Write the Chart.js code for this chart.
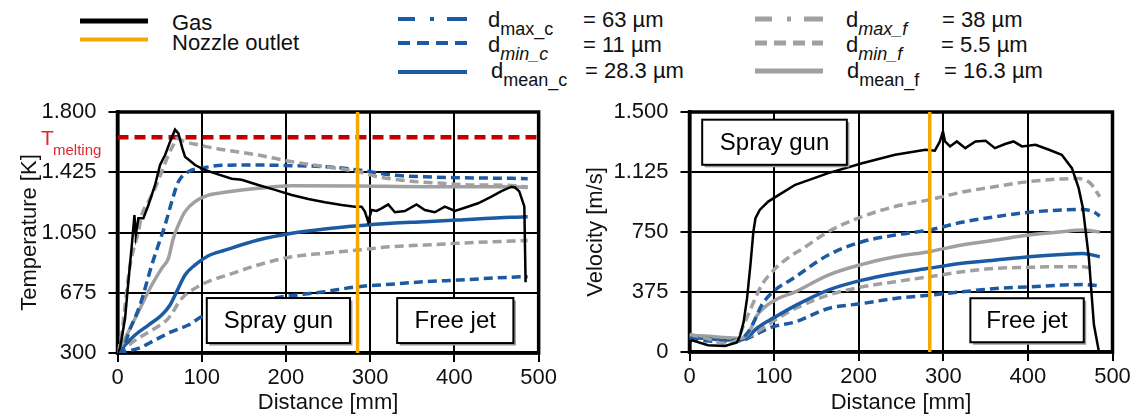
<!DOCTYPE html>
<html>
<head>
<meta charset="utf-8">
<script src="https://cdn.jsdelivr.net/npm/chart.js@4.4.0/dist/chart.umd.min.js"></script>
<style>
  body{margin:0;background:#fff;width:1142px;height:418px;overflow:hidden;position:relative;}
  canvas{position:absolute;top:0;}
  #legend{position:absolute;left:0;top:0;}
  #legend text{font-family:"Liberation Sans",Arial,sans-serif;font-size:22px;fill:#111;}
  #legend tspan.sub{font-size:18px;}
</style>
</head>
<body>
<svg id="legend" width="1142" height="95">
  <line x1="80" y1="21" x2="148" y2="21" stroke="#000" stroke-width="5"/>
  <line x1="80" y1="39.5" x2="148" y2="39.5" stroke="#f5a800" stroke-width="4"/>
  <text x="172" y="30">Gas</text>
  <text x="172" y="50">Nozzle outlet</text>

  <line x1="398" y1="19" x2="467" y2="19" stroke="#1c5aa3" stroke-width="4" stroke-dasharray="17 15 4 13 20"/>
  <line x1="398" y1="43" x2="467" y2="43" stroke="#1c5aa3" stroke-width="4" stroke-dasharray="12 7"/>
  <line x1="398" y1="72" x2="467" y2="72" stroke="#1c5aa3" stroke-width="4"/>
  <text x="488" y="27">d<tspan class="sub" dy="8">max_c</tspan></text>
  <text x="583" y="27">= 63 µm</text>
  <text x="488" y="52">d<tspan class="sub" dy="8" font-style="italic">min_c</tspan></text>
  <text x="583" y="52">= 11 µm</text>
  <text x="491" y="78">d<tspan class="sub" dy="8">mean_c</tspan></text>
  <text x="585" y="78">= 28.3 µm</text>

  <line x1="755" y1="19" x2="823" y2="19" stroke="#a0a0a0" stroke-width="5" stroke-dasharray="17 15 4 13 20"/>
  <line x1="755" y1="43" x2="823" y2="43" stroke="#a0a0a0" stroke-width="5" stroke-dasharray="12 7"/>
  <line x1="755" y1="71" x2="823" y2="71" stroke="#a0a0a0" stroke-width="5"/>
  <text x="846" y="27">d<tspan class="sub" dy="8" font-style="italic">max_f</tspan></text>
  <text x="942" y="27">= 38 µm</text>
  <text x="846" y="52">d<tspan class="sub" dy="8" font-style="italic">min_f</tspan></text>
  <text x="941" y="52">= 5.5 µm</text>
  <text x="847" y="78">d<tspan class="sub" dy="8">mean_f</tspan></text>
  <text x="944" y="78">= 16.3 µm</text>
</svg>
<canvas id="tempChart" width="560" height="418" style="left:0"></canvas>
<canvas id="velChart" width="572" height="418" style="left:570px"></canvas>
<script>
// --- axis ticks ---
const distTicks = [0,100,200,300,400,500];
const tempTicks = [300,675,1050,1425,1800];
const velTicks = [0,375,750,1125,1500];

// reference lines
const meltTemp = 1643;      // K
const nozzleTempX = 285;    // mm, nozzle outlet in the temperature plot
const nozzleVelX = 284;     // mm, nozzle outlet in the velocity plot

// --- temperature [K] over distance [mm] ---
const gasTemp = [[0,300],[3,330],[9,516],[12.9,744],[17,972],[20.1,1159],[21.7,1034],[24.8,1138],[30.7,1138],
  [36.7,1221],[44.6,1346],[50.5,1470],[56.5,1532],[62.4,1615],[68.3,1690],[72.3,1667],[77,1574],[80.2,1522],
  [92.1,1470],[103.9,1439],[115.8,1418],[135.6,1385],[147.4,1378],[167.1,1346],[187,1315],[206.8,1283],
  [226.5,1258],[246.3,1238],[266.1,1221],[281.9,1211],[289.8,1211],[293.7,1180],[297.6,1117],[301.7,1190],
  [307.6,1184],[313.5,1200],[321.4,1225],[329.3,1176],[341.2,1184],[355,1225],[364.9,1190],[376.7,1176],
  [388.6,1211],[400.5,1184],[412.3,1204],[428.1,1232],[444,1273],[455.9,1308],[467.7,1335],[472,1330],
  [477,1306],[483,1212],[484.5,740]];
const minCTemp = [[0,300],[5,310],[15,450],[26.8,599],[40.7,848],[48.5,972],[56.5,1097],[64.4,1242],[72.3,1366],
  [84.1,1428],[100,1450],[124,1468],[167,1470],[207,1466],[246,1460],[286,1439],[325,1408],[365,1397],
  [404,1391],[468,1387],[487,1385]];
const meanCTemp = [[0,300],[20.9,412],[36.7,474],[52.5,537],[62.4,599],[70.3,682],[80.2,786],[92.1,848],
  [107.9,905],[127.6,940],[167,1003],[207,1045],[246,1072],[286,1092],[325,1107],[365,1117],[404,1128],
  [468,1145],[487,1148]];
const maxCTemp = [[0,300],[24.8,329],[44.6,381],[64.4,433],[84.1,474],[100,526],[140,595],[183,640],[246,682],
  [286,713],[325,728],[365,744],[404,754],[468,772],[487,775]];
const minFTemp = [[0,300],[5,412],[9,599],[15,848],[24.8,1055],[28.8,1159],[36.7,1242],[44.6,1325],[52.5,1428],
  [60.4,1532],[66.3,1595],[70.3,1636],[80.2,1615],[96,1595],[120,1570],[167,1532],[207,1491],[246,1460],
  [286,1428],[306,1400],[345,1371],[385,1356],[424,1346],[468,1343],[487,1333]];
const meanFTemp = [[0,300],[9,392],[24.8,557],[40.7,723],[52.5,827],[60.4,889],[66.3,1014],[72.3,1097],
  [80.2,1180],[92.1,1242],[107.9,1283],[127.6,1300],[167,1325],[207,1341],[286,1339],[365,1335],[468,1335],
  [487,1330]];
const maxFTemp = [[0,300],[24.8,392],[44.6,454],[60.4,516],[76.3,640],[92.1,703],[111.9,754],[127.6,780],
  [167,848],[207,899],[246,921],[286,941],[325,962],[365,972],[404,983],[468,997],[487,1000]];

// --- velocity [m/s] over distance [mm] ---
const gasVel = [[0,60],[3,73],[22,42],[42,38],[56,59],[60,105],[64,188],[68,335],[72,543],[75.5,752],[78,836],
  [83,888],[93,940],[109,993],[125,1045],[164,1118],[204,1180],[243,1233],[279,1264],[290,1258],[296,1316],
  [299.6,1379],[302,1316],[308,1285],[316,1316],[326,1274],[338,1316],[350,1320],[361,1274],[373,1300],
  [383,1316],[393,1285],[409,1295],[425,1264],[440,1233],[452,1149],[460,1024],[465,900],[472,592],[478,172],
  [484,0]];
const minCVel = [[0,95],[20,85],[40,70],[60,80],[70,130],[78,210],[85,290],[101,387],[121,455],[164,606],
  [204,689],[243,731],[283,762],[322,811],[362,846],[401,873],[440,888],[465,890],[478,875],[485,850]];
const meanCVel = [[0,90],[20,85],[40,75],[60,75],[70,100],[80,150],[100,215],[125,290],[164,387],[204,449],
  [243,491],[283,523],[322,554],[362,575],[401,595],[440,610],[465,616],[485,595]];
const maxCVel = [[0,85],[20,70],[40,65],[60,70],[75,100],[90,140],[100,160],[125,188],[164,272],[204,303],
  [243,335],[283,355],[322,376],[362,397],[401,407],[440,418],[465,422],[485,414]];
const minFVel = [[0,110],[20,85],[40,55],[55,70],[65,180],[74,290],[85,415],[101,520],[117,590],[135,650],
  [164,752],[204,846],[243,909],[283,951],[322,999],[362,1034],[401,1065],[440,1082],[460,1084],[474,1054],
  [485,970]];
const meanFVel = [[0,105],[20,100],[40,90],[60,85],[70,120],[80,230],[101,324],[125,376],[164,481],[204,548],
  [243,595],[283,627],[322,669],[362,700],[401,731],[440,752],[465,762],[485,750]];
const maxFVel = [[0,100],[20,90],[40,80],[60,80],[75,110],[90,160],[100,195],[125,272],[164,355],[204,407],
  [243,439],[283,470],[322,501],[362,523],[401,529],[440,533],[465,533],[480,515]];

const FONT = '"Liberation Sans", Arial, sans-serif';
const BLUE = '#1c5aa3', GREY = '#a0a0a0', ORANGE = '#f5a800';

const pts = arr => arr.map(p => ({x:p[0], y:p[1]}));

// thousand separator as in the original (1.800)
function fmt(v){
  return v >= 1000 ? Math.floor(v/1000) + '.' + String(v % 1000).padStart(3,'0') : String(v);
}

function particleSet(data, color, dashed){
  return {data:pts(data), borderColor:color, borderWidth:3.5, borderDash:dashed ? [9,5] : [],
    cubicInterpolationMode:'monotone', pointRadius:0};
}

// thick frame round the plot area
const framePlugin = {
  id:'frame',
  beforeDatasetsDraw(chart){
    const {ctx, chartArea:a} = chart;
    ctx.save();
    ctx.strokeStyle = '#000'; ctx.lineWidth = 3.5;
    ctx.strokeRect(a.left, a.top, a.right - a.left, a.bottom - a.top);
    ctx.restore();
  }
};

// "Spray gun" / "Free jet" labels, boxes given in data units
function boxPlugin(items){
  return {
    id:'boxes',
    afterDatasetsDraw(chart){
      const {ctx, scales:{x, y}} = chart;
      items.forEach(b => {
        const l = x.getPixelForValue(b.x[0]), r = x.getPixelForValue(b.x[1]);
        const t = y.getPixelForValue(b.y[1]), bt = y.getPixelForValue(b.y[0]);
        ctx.save();
        ctx.fillStyle = '#9a9a9a'; ctx.fillRect(l + 2.5, t + 2.5, r - l, bt - t);
        ctx.fillStyle = '#fff'; ctx.fillRect(l, t, r - l, bt - t);
        ctx.strokeStyle = '#000'; ctx.lineWidth = 2; ctx.strokeRect(l, t, r - l, bt - t);
        ctx.fillStyle = '#000'; ctx.font = '24px ' + FONT;
        ctx.textAlign = 'center'; ctx.textBaseline = 'middle';
        ctx.fillText(b.text, (l + r) / 2, (t + bt) / 2 + 1);
        ctx.restore();
      });
    }
  };
}

// T_melting label next to the red line
const meltLabelPlugin = {
  id:'meltLabel',
  afterDraw(chart){
    const {ctx, scales:{y}} = chart;
    const py = y.getPixelForValue(meltTemp);
    ctx.save();
    ctx.fillStyle = '#e3262e'; ctx.textBaseline = 'alphabetic'; ctx.textAlign = 'left';
    ctx.font = '21px ' + FONT; ctx.fillText('T', 41, py + 8);
    ctx.font = '15px ' + FONT; ctx.fillText('melting', 53, py + 18);
    ctx.restore();
  }
};

function axes(yTicks, yMin, yMax, yTitle, yWidth, yTitlePad, xHeight){
  const tickFont = {size:22, family:FONT};
  const grid = {color:'#000', lineWidth:2, tickLength:9, tickColor:'#000', tickWidth:2};
  return {
    x:{type:'linear', min:0, max:500,
      afterBuildTicks:s => { s.ticks = distTicks.map(v => ({value:v})); },
      afterFit:s => { s.height = xHeight; },
      grid:grid, border:{color:'#000', width:3.5},
      ticks:{color:'#111', font:tickFont, padding:3, maxRotation:0, autoSkip:false},
      title:{display:true, text:'Distance [mm]', color:'#111', font:tickFont, padding:{top:0, bottom:2}}},
    y:{type:'linear', min:yMin, max:yMax,
      afterBuildTicks:s => { s.ticks = yTicks.map(v => ({value:v})); },
      afterFit:s => { s.width = yWidth; },
      grid:grid, border:{color:'#000', width:3.5},
      ticks:{color:'#111', font:tickFont, padding:12, autoSkip:false, callback:v => fmt(v)},
      title:{display:true, text:yTitle, color:'#111', font:tickFont, padding:{top:yTitlePad, bottom:0}}}
  };
}

function renderTemperature(){
  new Chart(document.getElementById('tempChart'), {
    type:'line',
    data:{datasets:[
      {data:pts([[nozzleTempX,300],[nozzleTempX,1800]]), borderColor:ORANGE, borderWidth:3.5, pointRadius:0},
      {data:pts(gasTemp), borderColor:'#000', borderWidth:2.5, pointRadius:0, tension:0},
      particleSet(minFTemp, GREY, true),
      particleSet(minCTemp, BLUE, true),
      particleSet(meanFTemp, GREY, false),
      particleSet(meanCTemp, BLUE, false),
      particleSet(maxFTemp, GREY, true),
      particleSet(maxCTemp, BLUE, true),
      {data:pts([[0,meltTemp],[500,meltTemp]]), borderColor:'#c00000', borderWidth:4.5, borderDash:[11,6], pointRadius:0}
    ]},
    options:{
      responsive:false, animation:false,
      layout:{padding:{top:112, right:21, bottom:0, left:0}},
      plugins:{legend:{display:false}, tooltip:{enabled:false}},
      scales:axes(tempTicks, 300, 1800, 'Temperature [K]', 117.5, 17, 65)
    },
    plugins:[framePlugin, meltLabelPlugin, boxPlugin([
      {text:'Spray gun', x:[106,276], y:[362,642]},
      {text:'Free jet', x:[332,470], y:[362,642]}
    ])]
  });
}

function renderVelocity(){
  new Chart(document.getElementById('velChart'), {
    type:'line',
    data:{datasets:[
      {data:pts([[nozzleVelX,0],[nozzleVelX,1500]]), borderColor:ORANGE, borderWidth:3.5, pointRadius:0},
      {data:pts(gasVel), borderColor:'#000', borderWidth:2.5, pointRadius:0, tension:0},
      particleSet(minFVel, GREY, true),
      particleSet(minCVel, BLUE, true),
      particleSet(meanFVel, GREY, false),
      particleSet(meanCVel, BLUE, false),
      particleSet(maxFVel, GREY, true),
      particleSet(maxCVel, BLUE, true)
    ]},
    options:{
      responsive:false, animation:false,
      layout:{padding:{top:112, right:29.5, bottom:0, left:0}},
      plugins:{legend:{display:false}, tooltip:{enabled:false}},
      scales:axes(velTicks, 0, 1500, 'Velocity [m/s]', 119.5, 12.4, 66)
    },
    plugins:[framePlugin, boxPlugin([
      {text:'Spray gun', x:[15,186], y:[1170,1452]},
      {text:'Free jet', x:[332,466], y:[61,336]}
    ])]
  });
}

function init(){
  renderTemperature();
  renderVelocity();
}

window.onload = init;
</script>
</body>
</html>
